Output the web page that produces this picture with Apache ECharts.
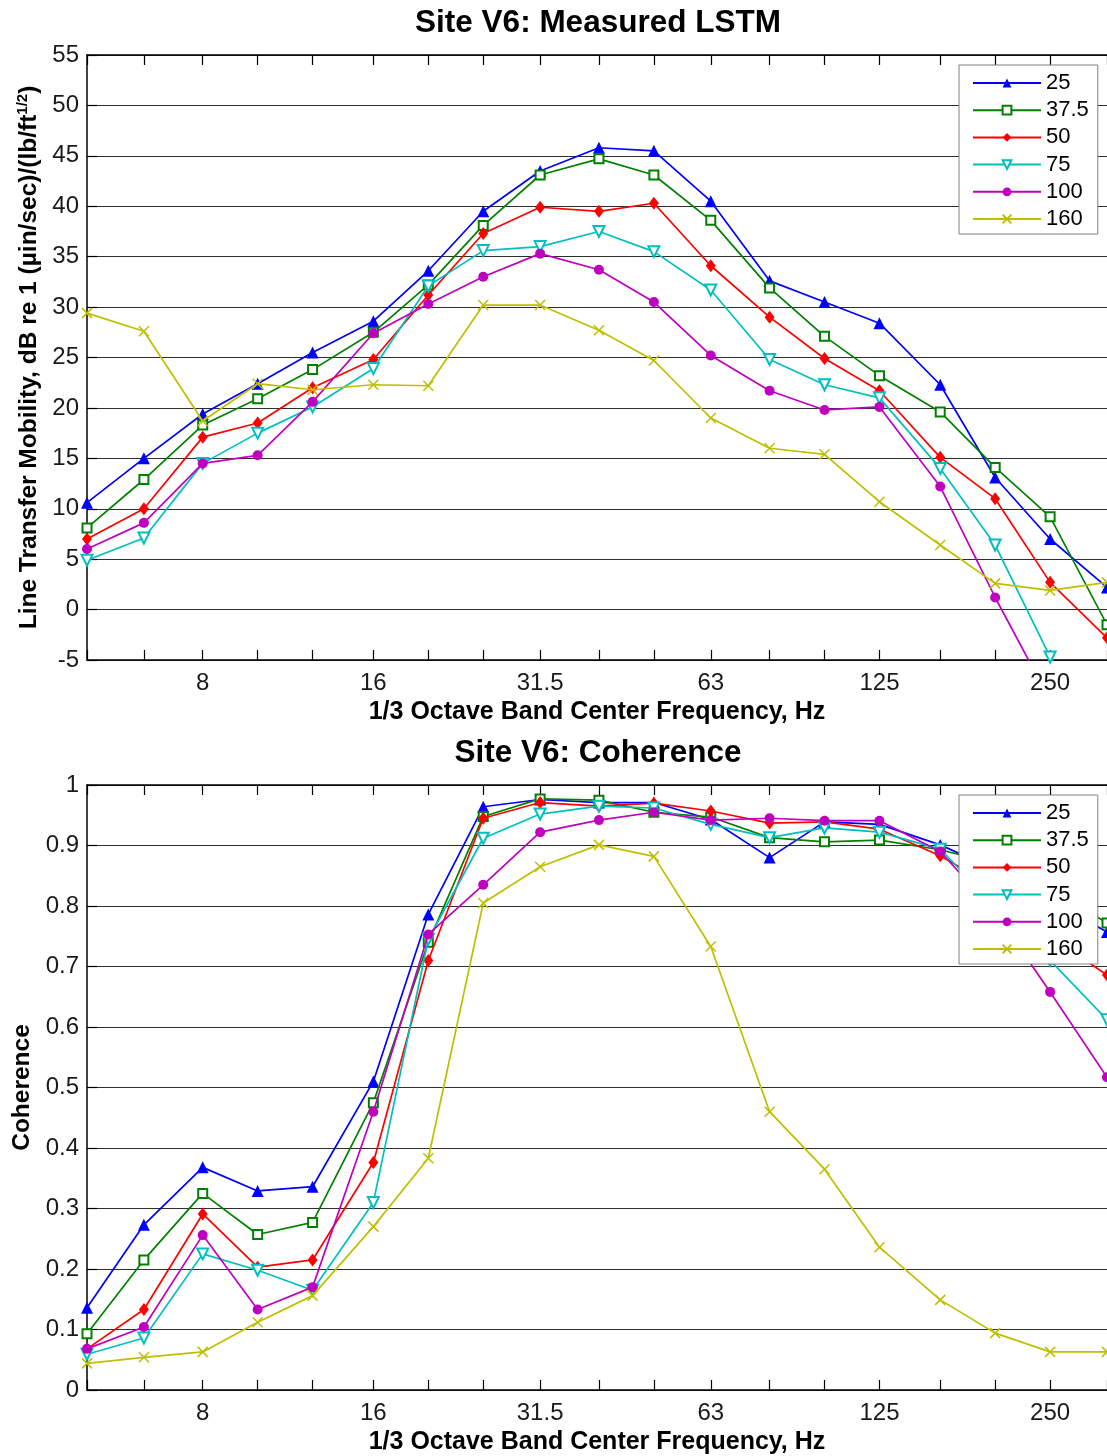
<!DOCTYPE html>
<html><head><meta charset="utf-8">
<script src="https://cdn.jsdelivr.net/npm/echarts@6/dist/echarts.min.js"></script>
<style>html,body{margin:0;padding:0;background:#fff}#c{width:1107px;height:1456px}</style>
</head><body><div id="c"></div><script>
// 1/3 octave band centre frequencies (Hz)
const freqs = [5, 6.3, 8, 10, 12.5, 16, 20, 25, 31.5, 40, 50, 63, 80, 100, 125, 160, 200, 250, 315];
const labelFreqs = [8, 16, 31.5, 63, 125, 250];
const seriesNames = ['25', '37.5', '50', '75', '100', '160'];

// Measured LSTM, dB
const lstm25  = [10.6, 15.0, 19.4, 22.4, 25.5, 28.6, 33.6, 39.5, 43.5, 45.8, 45.5, 40.5, 32.6, 30.5, 28.4, 22.3, 13.1, 7.0, 2.2];
const lstm37  = [8.1, 12.9, 18.3, 20.9, 23.8, 27.5, 32.2, 38.1, 43.1, 44.7, 43.1, 38.6, 31.9, 27.1, 23.2, 19.6, 14.1, 9.2, -1.5];
const lstm50  = [7.0, 10.0, 17.1, 18.5, 22.0, 24.8, 31.2, 37.3, 39.9, 39.5, 40.3, 34.1, 29.0, 24.9, 21.7, 15.1, 11.0, 2.7, -2.8];
const lstm75  = [4.9, 7.1, 14.5, 17.5, 20.1, 23.9, 32.1, 35.6, 36.0, 37.5, 35.5, 31.7, 24.8, 22.3, 21.0, 14.0, 6.4, -4.7, -12];
const lstm100 = [6.0, 8.6, 14.5, 15.3, 20.6, 27.4, 30.3, 33.0, 35.3, 33.7, 30.5, 25.2, 21.7, 19.8, 20.1, 12.2, 1.2, -9, -16];
const lstm160 = [29.4, 27.6, 18.7, 22.4, 21.8, 22.3, 22.2, 30.2, 30.2, 27.7, 24.7, 19.0, 16.0, 15.4, 10.7, 6.4, 2.6, 1.9, 2.7];

// Coherence
const coh25  = [0.136, 0.273, 0.368, 0.329, 0.336, 0.510, 0.786, 0.964, 0.976, 0.971, 0.971, 0.943, 0.880, 0.939, 0.935, 0.901, 0.860, 0.810, 0.757];
const coh37  = [0.093, 0.215, 0.325, 0.257, 0.277, 0.475, 0.740, 0.948, 0.977, 0.975, 0.955, 0.947, 0.913, 0.906, 0.909, 0.893, 0.870, 0.830, 0.772];
const coh50  = [0.068, 0.133, 0.291, 0.203, 0.215, 0.376, 0.710, 0.945, 0.971, 0.965, 0.970, 0.957, 0.937, 0.939, 0.927, 0.883, 0.830, 0.750, 0.686];
const coh75  = [0.059, 0.086, 0.225, 0.198, 0.165, 0.310, 0.745, 0.912, 0.952, 0.965, 0.962, 0.935, 0.913, 0.929, 0.922, 0.894, 0.800, 0.710, 0.612];
const coh100 = [0.068, 0.104, 0.256, 0.133, 0.170, 0.460, 0.753, 0.835, 0.922, 0.942, 0.955, 0.942, 0.945, 0.941, 0.941, 0.890, 0.790, 0.658, 0.517];
const coh160 = [0.044, 0.054, 0.063, 0.112, 0.156, 0.270, 0.383, 0.805, 0.865, 0.901, 0.882, 0.733, 0.460, 0.365, 0.236, 0.149, 0.094, 0.063, 0.063];

const lstmSets = [lstm25, lstm37, lstm50, lstm75, lstm100, lstm160];
const cohSets = [coh25, coh37, coh50, coh75, coh100, coh160];

const FONT = "'Liberation Sans', Arial, sans-serif";
const styles = [
  {color: '#0000FF', symbol: 'triangle', size: 12, empty: false},
  {color: '#008000', symbol: 'emptyRect', size: 9, empty: true},
  {color: '#FF0000', symbol: 'diamond', size: [10, 13], empty: false},
  {color: '#00BFBF', symbol: 'emptyTriangle', size: 11, empty: true, rotate: 180},
  {color: '#BF00BF', symbol: 'circle', size: 10, empty: false},
  {color: '#BFBF00', symbol: 'path://M0,0L10,10M10,0L0,10', size: 10, empty: true}
];

function xAxesFor(grid, name) {
  const common = {
    type: 'log', logBase: 10, gridIndex: grid, min: 5, max: 315,
    axisLine: {show: true, onZero: false, lineStyle: {color: '#000', width: 1.5}},
    axisTick: {show: true, inside: true, length: 10, customValues: freqs, lineStyle: {color: '#000', width: 1.2}},
    splitLine: {show: false}, minorTick: {show: false}, minorSplitLine: {show: false}
  };
  return [
    Object.assign({}, common, {
      position: 'bottom',
      axisLabel: {show: true, customValues: labelFreqs, formatter: v => String(+(+v).toPrecision(4)),
        fontSize: 24, color: '#1a1a1a', margin: 11, fontFamily: FONT},
      name: name, nameLocation: 'middle', nameGap: 40,
      nameTextStyle: {fontSize: 25, fontWeight: 'bold', color: '#000', fontFamily: FONT}
    }),
    Object.assign({}, common, {position: 'top', axisLabel: {show: false}})
  ];
}

function yAxisFor(grid, min, max, interval, name, gap, rich) {
  return {
    type: 'value', gridIndex: grid, min: min, max: max, interval: interval,
    axisLine: {show: true, onZero: false, lineStyle: {color: '#000', width: 1.5}},
    axisTick: {show: true, inside: true, length: 10, lineStyle: {color: '#000', width: 1.2}},
    axisLabel: {fontSize: 24, color: '#1a1a1a', margin: 8, fontFamily: FONT},
    splitLine: {show: true, lineStyle: {color: '#2e2e2e', width: 1.2}},
    name: name, nameLocation: 'middle', nameGap: gap, nameRotate: 90,
    nameTextStyle: {fontSize: 24.5, fontWeight: 'bold', color: '#000', fontFamily: FONT, rich: rich || {}}
  };
}

function seriesFor(sets, xIdx, yIdx) {
  return sets.map((vals, i) => {
    const st = styles[i];
    return {
      name: seriesNames[i], type: 'line', xAxisIndex: xIdx, yAxisIndex: yIdx,
      data: freqs.map((f, k) => [f, vals[k]]),
      symbol: st.symbol, symbolSize: st.size, symbolRotate: st.rotate || 0,
      showAllSymbol: true, clip: true,
      lineStyle: {color: st.color, width: 1.7},
      itemStyle: st.empty ? {color: st.color, borderColor: st.color, borderWidth: 1.5}
                          : {color: st.color, borderWidth: 0},
      emphasis: {disabled: true}, z: 3 + i * 0.01
    };
  });
}

function legendAt(top) {
  return {
    left: 959, top: top, orient: 'vertical', data: seriesNames, selectedMode: false,
    itemWidth: 68, itemHeight: 11, itemGap: 5.2, padding: [7, 9, 4, 13],
    backgroundColor: '#fff', borderColor: '#808080', borderWidth: 1, z: 10,
    textStyle: {fontSize: 22, color: '#000', fontFamily: FONT}
  };
}

const xTitle = '1/3 Octave Band Center Frequency, Hz';
const option = {
  animation: false,
  backgroundColor: '#fff',
  textStyle: {fontFamily: FONT},
  graphic: [
    {type: 'text', x: 598, y: 23, style: {text: 'Site V6: Measured LSTM', font: 'bold 31.5px ' + FONT, fill: '#000', align: 'center', verticalAlign: 'middle'}},
    {type: 'text', x: 598, y: 753, style: {text: 'Site V6: Coherence', font: 'bold 31.5px ' + FONT, fill: '#000', align: 'center', verticalAlign: 'middle'}}
  ],
  grid: [
    {left: 87, top: 55, right: 0, height: 605, containLabel: false},
    {left: 87, top: 785, right: 0, height: 606, containLabel: false}
  ],
  xAxis: xAxesFor(0, xTitle).concat(xAxesFor(1, xTitle)),
  yAxis: [
    yAxisFor(0, -5, 55, 5, 'Line Transfer Mobility, dB re 1 (µin/sec)/(lb/ft{sup|1/2})', 44,
      {sup: {fontSize: 15, fontWeight: 'bold', color: '#000', fontFamily: FONT, padding: [0, 0, 12, 0]}}),
    yAxisFor(1, 0, 1, 0.1, 'Coherence', 51)
  ],
  legend: [legendAt(65), legendAt(795)],
  series: seriesFor(lstmSets, 0, 0).concat(seriesFor(cohSets, 2, 1))
};
const chart = echarts.init(document.getElementById('c'), null, {renderer: 'canvas'});
chart.setOption(option);
</script></body></html>
